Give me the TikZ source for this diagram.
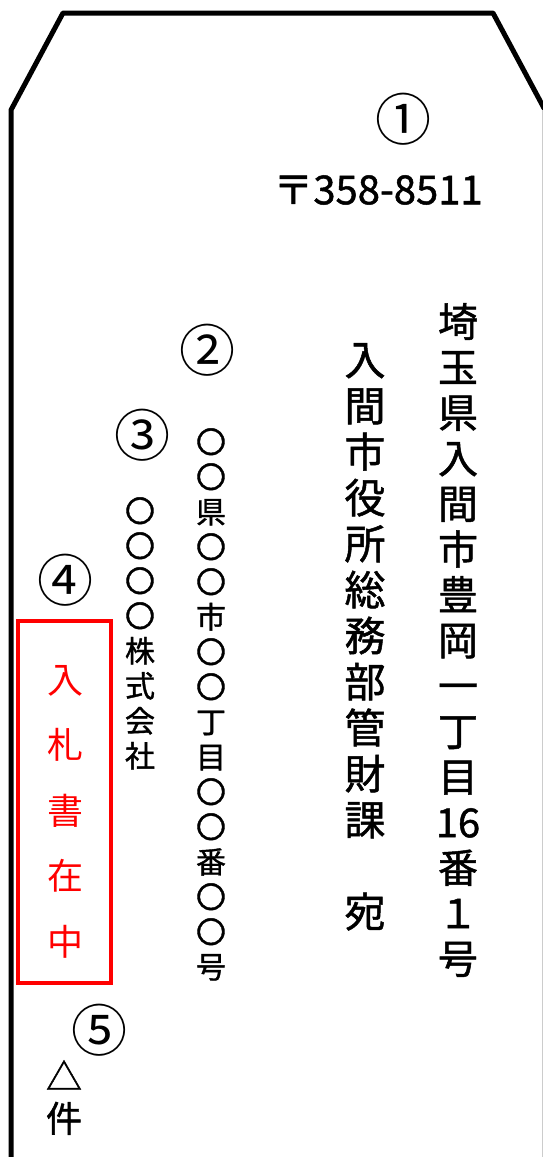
\documentclass[tikz,border=0pt]{standalone}
\usepackage{fontspec}
\newfontfamily\jp{Noto Sans CJK JP}
\newfontfamily\jpb{Noto Sans CJK JP}[FakeBold=1.2]
\tikzset{
  tate/.style={align=center, inner sep=0pt, anchor=north},
  maru/.style={font=\jp\fontsize{56}{56}\selectfont, inner sep=0pt},
}
\begin{document}
\begin{tikzpicture}[x=1pt, y=-1pt]
  % Marco del dibujo
  \useasboundingbox (0,0) rectangle (543,1157);
  % Contorno del sobre
  \draw[line width=5pt, line join=bevel] (11,1160) -- (11,110) -- (63,13) -- (493,13) -- (545,110);
  \draw[gray!40, line width=1pt] (542,110) -- (542,1157);
  % Números en círculo
  \node[maru] (n1) at (403,119) {①};
  \node[maru] (n2) at (207,350) {②};
  \node[maru] (n3) at (142,435) {③};
  \node[maru] (n4) at (65,580) {④};
  \node[maru] (n5) at (99,1030) {⑤};
  % Código postal
  \node[font=\jpb\fontsize{40}{40}\selectfont, inner sep=0pt] (cp) at (378,190) {〒358-8511};
  % Dirección del destinatario
  \node[tate, font=\jpb\fontsize{40}{45.5}\selectfont] (dir) at (458,303)
    {埼\\玉\\県\\入\\間\\市\\豊\\岡\\一\\丁\\目\\16\\番\\１\\号};
  \node[tate, font=\jpb\fontsize{41}{46}\selectfont] (dest) at (365,343)
    {入\\間\\市\\役\\所\\総\\務\\部\\管\\財\\課\\　\\宛};
  % Remitente
  \node[tate, font=\jpb\fontsize{30}{35}\selectfont] (rdir) at (211,428)
    {〇\\〇\\県\\〇\\〇\\市\\〇\\〇\\丁\\目\\〇\\〇\\番\\〇\\〇\\号};
  \node[tate, font=\jpb\fontsize{30}{35}\selectfont] (rem) at (140,497)
    {〇\\〇\\〇\\〇\\株\\式\\会\\社};
  % Recuadro rojo
  \node[draw=red, line width=3.5pt, minimum width=93pt, minimum height=362pt] (caja) at (64.5,802) {};
  \node[tate, red, font=\jp\fontsize{36}{65.5}\selectfont] (nyusatsu) at (65,665)
    {入\\札\\書\\在\\中};
  % Número de piezas
  \node[tate, font=\jpb\fontsize{36}{42}\selectfont] (ken) at (64,1060) {△\\件};
\end{tikzpicture}
\end{document}
